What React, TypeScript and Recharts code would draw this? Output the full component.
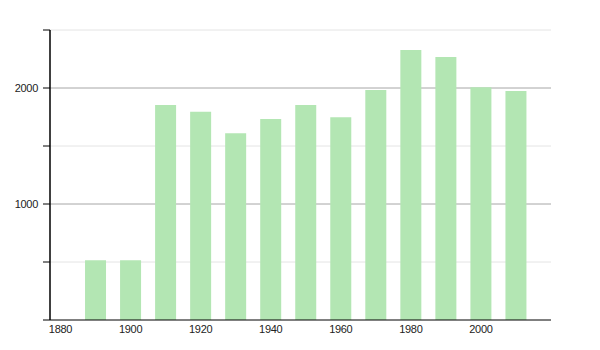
import React from "react";
import { BarChart, Bar, XAxis, YAxis, CartesianGrid } from "recharts";

const years = [1890, 1900, 1910, 1920, 1930, 1940, 1950, 1960, 1970, 1980, 1990, 2000, 2010];
const population = [515, 515, 1853, 1795, 1609, 1732, 1853, 1747, 1983, 2328, 2268, 2006, 1974];
const xTicks = [1880, 1900, 1920, 1940, 1960, 1980, 2000];
const yTicks = [0, 500, 1000, 1500, 2000, 2500];
const yLabels = [1000, 2000];
const lightGrid = [500, 1500, 2500];
const darkGrid = [1000, 2000];

const data = years.map((y, i) => ({ year: y, value: population[i] }));

export default function App() {
  return (
    <div style={{ position: "absolute", left: 0, top: 0 }}>
      <BarChart
        width={600}
        height={350}
        data={data}
        margin={{ top: 30, right: 49, bottom: 0, left: 0 }}
        style={{ fontFamily: "'Liberation Sans', Arial, sans-serif" }}
      >
        <CartesianGrid vertical={false} stroke="#e4e4e4" horizontalValues={lightGrid} />
        <CartesianGrid vertical={false} stroke="#a6a6a6" horizontalValues={darkGrid} />
        <XAxis
          dataKey="year"
          type="number"
          domain={[1877, 2020]}
          ticks={xTicks}
          allowDataOverflow
          height={30}
          tickLine={false}
          tickSize={3}
          tickMargin={2}
          axisLine={{ stroke: "#000", strokeWidth: 1 }}
          tick={{ fill: "#222", fontSize: 11, letterSpacing: -0.3 }}
          interval={0}
        />
        <YAxis
          type="number"
          domain={[0, 2500]}
          ticks={yTicks}
          width={50}
          tickSize={7}
          tickMargin={5}
          axisLine={{ stroke: "#000", strokeWidth: 1.5 }}
          tickLine={{ stroke: "#000" }}
          tick={{ fill: "#222", fontSize: 11, letterSpacing: -0.3 }}
          tickFormatter={(v: number) => (yLabels.includes(v) ? String(v) : "")}
          interval={0}
        />
        <Bar dataKey="value" fill="#b3e6b3" barSize={21} isAnimationActive={false} />
      </BarChart>
    </div>
  );
}
